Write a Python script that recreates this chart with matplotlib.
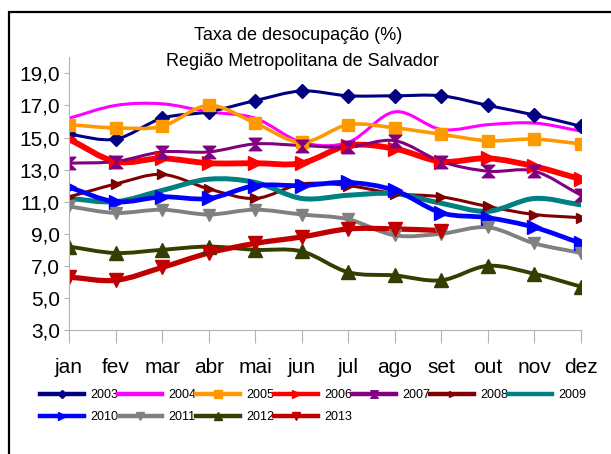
import matplotlib
matplotlib.use("Agg")
import matplotlib.pyplot as plt
from matplotlib.path import Path
from matplotlib.patches import PathPatch, Rectangle
from matplotlib.lines import Line2D
import numpy as np

plt.rcParams['font.family'] = ['Liberation Sans', 'DejaVu Sans']

months = ['jan', 'fev', 'mar', 'abr', 'mai', 'jun', 'jul', 'ago', 'set', 'out', 'nov', 'dez']
years = ['2003', '2004', '2005', '2006', '2007', '2008', '2009',
         '2010', '2011', '2012', '2013']

taxa_2003 = [15.2, 14.9, 16.2, 16.6, 17.3, 17.9, 17.6, 17.6, 17.6, 17.0, 16.4, 15.7]
taxa_2004 = [16.2, 17.0, 17.1, 16.6, 16.2, 14.7, 14.7, 16.6, 15.5, 15.8, 15.9, 15.4]
taxa_2005 = [15.8, 15.6, 15.7, 17.0, 15.9, 14.7, 15.8, 15.6, 15.2, 14.8, 14.9, 14.6]
taxa_2006 = [14.9, 13.5, 13.7, 13.4, 13.4, 13.4, 14.5, 14.3, 13.5, 13.7, 13.2, 12.4]
taxa_2007 = [13.4, 13.5, 14.1, 14.1, 14.6, 14.5, 14.4, 14.8, 13.5, 12.9, 12.9, 11.4]
taxa_2008 = [11.3, 12.1, 12.7, 11.8, 11.2, 12.1, 12.0, 11.5, 11.3, 10.7, 10.2, 10.0]
taxa_2009 = [11.2, 11.0, 11.7, 12.4, 12.2, 11.2, 11.4, 11.5, 10.9, 10.4, 11.2, 10.8]
taxa_2010 = [11.9, 11.0, 11.3, 11.2, 12.0, 12.0, 12.2, 11.7, 10.3, 10.0, 9.4, 8.4]
taxa_2011 = [10.7, 10.3, 10.5, 10.2, 10.5, 10.2, 9.9, 8.9, 9.0, 9.4, 8.4, 7.8]
taxa_2012 = [8.2, 7.8, 8.0, 8.2, 8.0, 7.9, 6.6, 6.4, 6.1, 7.0, 6.5, 5.7]
taxa_2013 = [6.3, 6.1, 6.9, 7.8, 8.4, 8.8, 9.3, 9.3, 9.2]

series = [taxa_2003, taxa_2004, taxa_2005, taxa_2006, taxa_2007, taxa_2008,
          taxa_2009, taxa_2010, taxa_2011, taxa_2012, taxa_2013]

# hourglass marker for 2007
hourglass = Path([(-1, 1), (1, 1), (-1, -1), (1, -1), (-1, 1)],
                 [Path.MOVETO, Path.LINETO, Path.LINETO, Path.LINETO, Path.CLOSEPOLY])

# color, line width, marker, marker size
styles = [
    ('#000080', 2.2, 'D', 7),
    ('#ff00ff', 2.2, None, 0),
    ('#ff9900', 2.6, 's', 8.5),
    ('#ff0000', 4.2, '>', 10),
    ('#800080', 2.2, hourglass, 9),
    ('#800000', 2.2, '>', 7.5),
    ('#008080', 3.6, None, 0),
    ('#0000ff', 3.4, '>', 10),
    ('#808080', 2.8, 'v', 8.5),
    ('#333f00', 2.8, '^', 10),
    ('#c00000', 3.8, 'v', 10),
]


def smooth_path(y):
    # cubic bezier through the points (catmull-rom tangents)
    x = np.arange(len(y), dtype=float)
    y = np.asarray(y, dtype=float)
    pts = np.column_stack([x, y])
    n = len(pts)
    tang = np.zeros_like(pts)
    tang[0] = pts[1] - pts[0]
    tang[-1] = pts[-1] - pts[-2]
    for i in range(1, n - 1):
        tang[i] = (pts[i + 1] - pts[i - 1]) / 2
    verts = [pts[0]]
    codes = [Path.MOVETO]
    for i in range(n - 1):
        verts += [pts[i] + tang[i] / 3, pts[i + 1] - tang[i + 1] / 3, pts[i + 1]]
        codes += [Path.CURVE4] * 3
    return Path(verts, codes)


fig = plt.figure(figsize=(6.11, 4.54), dpi=100)
ax = fig.add_axes([69/611, 1 - 330/454, 512/611, (330 - 57.3)/454])

handles = []
for vals, (col, lw, mk, ms), yr in zip(series, styles, years):
    ax.add_patch(PathPatch(smooth_path(vals), fill=False, edgecolor=col, lw=lw,
                           capstyle='round', joinstyle='round'))
    if mk is not None:
        ax.plot(range(len(vals)), vals, linestyle='none', marker=mk, ms=ms,
                color=col, mec=col)
    handles.append(Line2D([], [], color=col, lw=3.2, marker=mk,
                          ms=ms * 0.6 if mk is not None else 0, mec=col))

ax.set_xlim(0, 11)
ax.set_ylim(3, 20)
ax.set_xticks(range(12))
ax.set_xticklabels(months, fontsize=15)
ax.set_yticks(np.arange(3, 20, 2))
ax.set_yticklabels([('%.1f' % v).replace('.', ',') for v in np.arange(3, 20, 2)], fontsize=15)
for s in ['top', 'right']:
    ax.spines[s].set_visible(False)
for s in ['left', 'bottom']:
    ax.spines[s].set_color('#b3b3b3')
ax.tick_params(axis='x', length=9.5, color='#b3b3b3', pad=11)
ax.tick_params(axis='y', length=3.5, color='#b3b3b3', pad=3)

fig.text(298/611, 1 - 35/454, 'Taxa de desocupação (%)', ha='center', va='center', fontsize=13)
fig.text(302/611, 1 - 62/454, 'Região Metropolitana de Salvador', ha='center', va='center', fontsize=13)

# legend is filled column by column: reorder so rows read 2003..2009 / 2010..2013
order = [0, 7, 1, 8, 2, 9, 3, 10, 4, 5, 6]
fig.legend([handles[i] for i in order], [years[i] for i in order], ncol=7,
           loc='upper left', bbox_to_anchor=(40/611, 1 - 389/454),
           frameon=False, fontsize=9, handlelength=3.55, handletextpad=0.45,
           columnspacing=0.0, labelspacing=0.8, borderpad=0, borderaxespad=0)

fig.patches.append(Rectangle((8.5/611, -0.1), 1.2, 1.1 - 12.5/454, transform=fig.transFigure,
                             fill=False, edgecolor='black', lw=1.6))

fig.savefig('out.png', dpi=100)
